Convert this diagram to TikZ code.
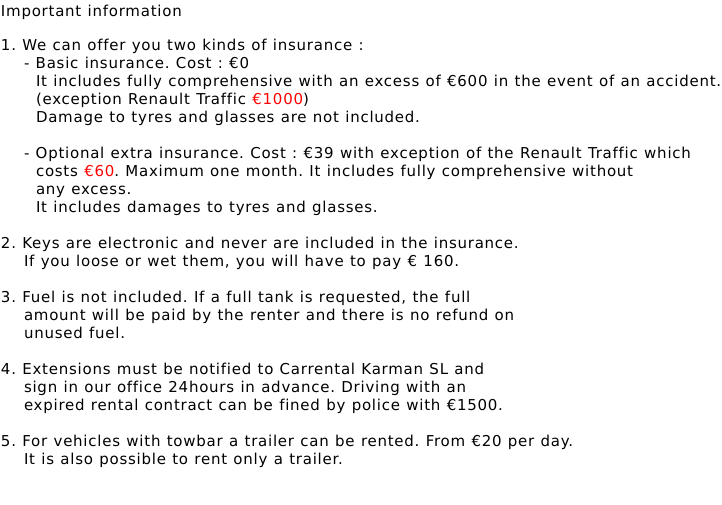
\documentclass[tikz,border=0pt]{standalone}
\usepackage{fontspec}
\setmainfont{DejaVu Sans}[LetterSpace=5.0,Ligatures=NoCommon]
\definecolor{eur}{RGB}{255,0,0}
\tikzset{txt/.style={anchor=base west,inner sep=0pt,outer sep=0pt,font={\fontsize{15}{18}\selectfont\spaceskip=\dimexpr\fontdimen2\font+0.8pt\relax},text=black}}
\begin{document}
\frenchspacing
\begin{tikzpicture}[x=1pt,y=-1pt]
\useasboundingbox[fill=white] (0,0) rectangle (722,504);
\node[txt] (l0) at (1,16) {Important information};
\node[txt] (l2) at (1,50) {1. We can offer you two kinds of insurance :};
\node[txt] (l3) at (24,68) {- Basic insurance. Cost : €0};
\node[txt] (l4) at (36,86) {It includes fully comprehensive with an excess of €600 in the event of an accident.};
\node[txt] (l5) at (36,104) {(exception Renault Traffic \textcolor{eur}{€1000})};
\node[txt] (l6) at (36,122) {Damage to tyres and glasses are not included.};
\node[txt] (l8) at (24,158) {- Optional extra insurance. Cost : €39 with exception of the Renault Traffic which};
\node[txt] (l9) at (36,176) {costs \textcolor{eur}{€60}. Maximum one month. It includes fully comprehensive without};
\node[txt] (l10) at (36,194) {any excess.};
\node[txt] (l11) at (36,212) {It includes damages to tyres and glasses.};
\node[txt] (l13) at (1,248) {2. Keys are electronic and never are included in the insurance.};
\node[txt] (l14) at (24,266) {If you loose or wet them, you will have to pay € 160.};
\node[txt] (l16) at (1,302) {3. Fuel is not included. If a full tank is requested, the full};
\node[txt] (l17) at (24,320) {amount will be paid by the renter and there is no refund on};
\node[txt] (l18) at (24,338) {unused fuel.};
\node[txt] (l20) at (1,374) {4. Extensions must be notified to Carrental Karman SL and};
\node[txt] (l21) at (24,392) {sign in our office 24hours in advance. Driving with an};
\node[txt] (l22) at (24,410) {expired rental contract can be fined by police with €1500.};
\node[txt] (l24) at (1,446) {5. For vehicles with towbar a trailer can be rented. From €20 per day.};
\node[txt] (l25) at (24,464) {It is also possible to rent only a trailer.};
\end{tikzpicture}
\end{document}
